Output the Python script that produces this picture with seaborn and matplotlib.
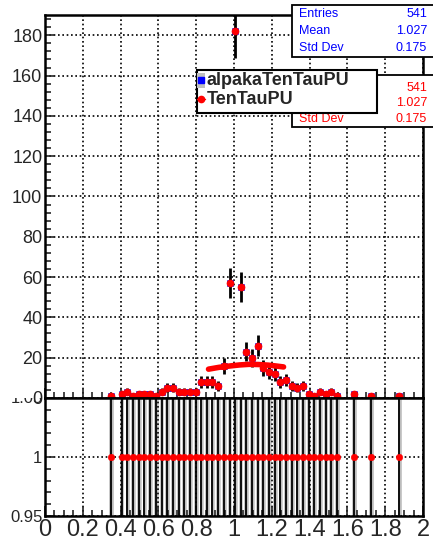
import numpy as np
import pandas as pd
import matplotlib
matplotlib.use("Agg")
import matplotlib.pyplot as plt
import seaborn as sns
from matplotlib.lines import Line2D
from matplotlib.patches import Rectangle
from matplotlib.ticker import MultipleLocator
from matplotlib.transforms import Bbox, TransformedBbox

# bin centres and counts (both histograms are identical)
bin_x = [0.350, 0.405, 0.436, 0.466, 0.496, 0.526, 0.556, 0.586, 0.617, 0.647,
         0.677, 0.707, 0.737, 0.767, 0.797, 0.827, 0.856, 0.886, 0.916, 0.946,
         0.976, 1.006, 1.035, 1.065, 1.095, 1.125, 1.155, 1.185, 1.215, 1.245,
         1.275, 1.305, 1.335, 1.365, 1.394, 1.423, 1.455, 1.485, 1.513, 1.543,
         1.633, 1.725, 1.875]
counts = [1, 2, 3, 1, 2, 2, 2, 1, 3, 5,
          5, 3, 3, 3, 3, 8, 8, 8, 6, 16,
          57, 182, 55, 23, 20, 26, 15, 13, 12, 8,
          9, 6, 5, 6, 2, 1, 3, 2, 3, 1,
          2, 1, 1]

# red fit curve
fit_x = [0.865, 0.92, 0.98, 1.03, 1.08, 1.13, 1.18, 1.22, 1.262]
fit_y = [14.3, 15.2, 15.9, 16.4, 16.7, 16.6, 16.3, 15.9, 15.4]

x_ticks = [0, 0.2, 0.4, 0.6, 0.8, 1.0, 1.2, 1.4, 1.6, 1.8, 2.0]
x_labels = ["0", "0.2", "0.4", "0.6", "0.8", "1", "1.2", "1.4", "1.6", "1.8", "2"]
y_ticks = [0, 20, 40, 60, 80, 100, 120, 140, 160, 180]
r_ticks = [0.95, 1.0, 1.05]
r_labels = ["0.95", "1", "1.05"]

stats_names = ["Entries", "Mean", "Std Dev"]
stats_vals = ["541", "1.027", "0.175"]
series = ["alpakaTenTauPU", "TenTauPU"]

df = pd.DataFrame({"x": bin_x, "n": counts})
df["err"] = np.sqrt(df["n"])
df["ratio"] = df["n"] / df["n"]
df["rerr"] = df["ratio"] * np.sqrt(2.0 / df["n"])

sns.set_style("ticks")
plt.rcParams['font.family'] = ['Liberation Sans', 'DejaVu Sans']

fig = plt.figure(figsize=(4.33, 5.4), dpi=100)
ax = fig.add_axes([0.104, 0.263, 0.873, 0.709])
rax = fig.add_axes([0.104, 0.0444, 0.873, 0.2185])

dots = (0, (1, 1.6))

# Top panel
ax.errorbar(df["x"], df["n"], yerr=df["err"], fmt="none", ecolor="black",
            elinewidth=2, zorder=3)
sns.scatterplot(data=df, x="x", y="n", marker="s", color="#0000ff",
                edgecolor="#0000ff", s=24, ax=ax, zorder=4, legend=False)
sns.scatterplot(data=df, x="x", y="n", marker="o", color="#ff0000",
                edgecolor="#ff0000", s=26, ax=ax, zorder=5, legend=False)
sns.lineplot(x=fit_x, y=fit_y, color="#ff0000", lw=4, ax=ax, zorder=6)

ax.set_xlim(0, 2)
ax.set_ylim(0, 190)
ax.set_xticks(x_ticks)
ax.set_yticks(y_ticks)
ax.xaxis.set_minor_locator(MultipleLocator(0.05))
ax.yaxis.set_minor_locator(MultipleLocator(4))
ax.tick_params(labelbottom=False)
ax.tick_params(axis="y", labelsize=13)
ax.grid(True, which="major", color="black", ls=dots, lw=1.2)
ax.set_xlabel("")
ax.set_ylabel("")

# Ratio panel
rax.bar(df["x"], 2 * df["rerr"], bottom=1 - df["rerr"], width=0.03,
        color="#bdbdbd", zorder=1)
rax.errorbar(df["x"], df["ratio"], yerr=df["rerr"], fmt="none", ecolor="black",
             elinewidth=1.3, zorder=3)
sns.scatterplot(data=df, x="x", y="ratio", marker="o", color="#ff0000",
                edgecolor="#ff0000", s=22, ax=rax, zorder=5, legend=False)
rax.set_xlim(0, 2)
rax.set_ylim(0.95, 1.05)
rax.set_xticks(x_ticks)
rax.set_xticklabels(x_labels)
rax.set_yticks(r_ticks[:2])
rax.set_yticklabels(r_labels[:2])
rax.xaxis.set_minor_locator(MultipleLocator(0.01 * 5))
rax.yaxis.set_minor_locator(MultipleLocator(0.01))
rax.tick_params(axis="x", labelsize=17, pad=1)
rax.tick_params(axis="y", labelsize=12)
rax.grid(True, which="major", color="black", ls=dots, lw=1.2)
rax.set_xlabel("")
rax.set_ylabel("")

# the top ratio label is cut by the upper pad, as in the original
top_lab = rax.text(-0.006, r_ticks[2], r_labels[2], transform=rax.get_yaxis_transform(),
                   ha="right", va="center", fontsize=12)
top_lab.set_clip_box(TransformedBbox(Bbox([[0, 0], [0.104, 0.263]]), fig.transFigure))
top_lab.set_clip_on(True)

for a in (ax, rax):
    a.set_axisbelow(False)
    a.tick_params(which="both", direction="in", top=False, right=False,
                  width=1.2, pad=2)
    a.tick_params(which="major", length=7)
    a.tick_params(which="minor", length=4)
    for s in a.spines.values():
        s.set_visible(True)
        s.set_linewidth(1.8)
        s.set_color("black")
        s.set_zorder(7)

# Stats boxes
def stats_box(y_top, y_bot, rows_y, color, names):
    fig.patches.append(Rectangle((0.674, y_bot), 0.33, y_top - y_bot,
                                 transform=fig.transFigure, facecolor="white",
                                 edgecolor="black", lw=1.3, zorder=2))
    for yy, name, val in zip(rows_y, names, stats_vals):
        if name:
            fig.text(0.690, yy, name, color=color, fontsize=9, va="center", zorder=3)
        fig.text(0.986, yy, val, color=color, fontsize=9, va="center", ha="right", zorder=3)

stats_box(0.991, 0.894, [0.974, 0.943, 0.911], "#0000ff", stats_names)
stats_box(0.861, 0.765, [0.837, 0.809, 0.780], "#ff0000", ["", "", "Std Dev"])

# Legend (drawn by hand to match the ROOT box)
fig.patches.append(Rectangle((0.454, 0.791), 0.416, 0.079,
                             transform=fig.transFigure, facecolor="white",
                             edgecolor="black", lw=1.5, zorder=8))
fig.patches.append(Rectangle((0.456, 0.837), 0.017, 0.028,
                             transform=fig.transFigure, facecolor="#c0c0c0",
                             edgecolor="none", zorder=9))
fig.lines.append(Line2D([0.4645], [0.851], transform=fig.transFigure,
                        marker="s", ms=4.5, color="#0000ff", zorder=10))
fig.lines.append(Line2D([0.456, 0.473], [0.816, 0.816], transform=fig.transFigure,
                        lw=1, color="#ff0000", zorder=10))
fig.lines.append(Line2D([0.4645], [0.816], transform=fig.transFigure,
                        marker="o", ms=4.5, color="#ff0000", zorder=10))
fig.text(0.478, 0.851, series[0], fontsize=13, fontweight="bold",
         va="center", zorder=10)
fig.text(0.478, 0.816, series[1], fontsize=13, fontweight="bold",
         va="center", zorder=10)

fig.savefig("out.png", dpi=100)
